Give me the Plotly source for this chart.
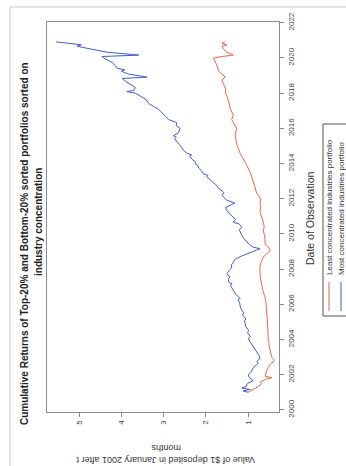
import plotly.graph_objects as go

# Cumulative value of $1 invested in January 2001 (read at irregular month-ends)
most_dates = [
    "2001-01", "2001-02", "2001-03", "2001-04", "2001-05", "2001-07", "2001-09", "2001-11",
    "2002-01", "2002-03", "2002-05", "2002-07", "2002-09", "2002-10", "2002-12",
    "2003-02", "2003-04", "2003-06", "2003-08", "2003-10", "2003-12",
    "2004-02", "2004-03", "2004-04", "2004-06", "2004-07", "2004-08", "2004-10", "2004-12",
    "2005-02", "2005-03", "2005-04", "2005-06", "2005-07", "2005-08", "2005-10", "2005-12",
    "2006-02", "2006-04", "2006-05", "2006-06", "2006-08", "2006-10", "2006-12",
    "2007-02", "2007-03", "2007-04", "2007-06", "2007-08", "2007-09", "2007-10", "2007-12",
    "2008-01", "2008-02", "2008-04", "2008-05", "2008-06", "2008-08", "2008-10", "2008-12",
    "2009-02", "2009-03", "2009-04", "2009-06", "2009-08", "2009-10", "2009-12",
    "2010-02", "2010-04", "2010-05", "2010-06", "2010-08", "2010-09", "2010-11",
    "2011-01", "2011-03", "2011-05", "2011-07", "2011-09", "2011-10", "2011-12",
    "2012-02", "2012-04", "2012-05", "2012-06", "2012-08", "2012-10", "2012-12",
    "2013-02", "2013-04", "2013-05", "2013-06", "2013-08", "2013-10", "2013-12",
    "2014-01", "2014-02", "2014-04", "2014-06", "2014-07", "2014-08", "2014-10", "2014-12",
    "2015-02", "2015-04", "2015-06", "2015-07", "2015-08", "2015-10",
    "2016-01", "2016-02", "2016-03", "2016-05", "2016-07", "2016-09", "2016-12",
    "2017-02", "2017-04", "2017-06", "2017-09", "2017-11",
    "2018-01", "2018-02", "2018-03", "2018-05", "2018-07", "2018-09", "2018-11", "2018-12",
    "2019-02", "2019-04", "2019-05", "2019-06", "2019-08", "2019-10",
    "2020-01", "2020-02", "2020-03", "2020-05", "2020-07", "2020-09", "2020-10", "2020-11", "2020-12",
]
most_values = [
    1.00, 1.12, 0.95, 1.15, 1.05, 1.02, 0.88, 0.97,
    1.00, 0.92, 0.90, 0.83, 0.76, 0.80, 0.72,
    0.74, 0.78, 0.84, 0.88, 0.92, 0.97,
    0.99, 0.95, 0.98, 1.02, 0.98, 1.00, 1.06, 1.07,
    1.09, 1.05, 1.08, 1.14, 1.10, 1.13, 1.17, 1.19,
    1.20, 1.24, 1.19, 1.22, 1.30, 1.34, 1.38,
    1.42, 1.38, 1.45, 1.47, 1.43, 1.48, 1.50, 1.45,
    1.41, 1.39, 1.40, 1.36, 1.35, 1.30, 1.15, 0.95,
    0.80, 0.72, 0.88, 0.98, 1.05, 1.10, 1.15,
    1.18, 1.21, 1.17, 1.15, 1.22, 1.35, 1.30,
    1.38, 1.45, 1.50, 1.54, 1.40, 1.31, 1.50,
    1.58, 1.62, 1.57, 1.60, 1.70, 1.74, 1.82,
    1.90, 1.98, 1.95, 2.06, 2.10, 2.17, 2.20,
    2.26, 2.24, 2.33, 2.38, 2.34, 2.45, 2.53, 2.57,
    2.63, 2.69, 2.74, 2.70, 2.77, 2.65,
    2.61, 2.66, 2.70, 2.69, 2.88, 2.95, 3.04,
    3.12, 3.24, 3.35, 3.43, 3.55,
    3.67, 3.87, 3.70, 3.67, 3.79, 3.90, 3.98, 3.39,
    3.83, 4.00, 3.92, 4.10, 4.15, 4.22,
    4.42, 4.46, 3.59, 4.34, 4.70, 5.05, 4.95, 5.33, 5.55,
]

least_dates = [
    "2001-01", "2001-02", "2001-03", "2001-05", "2001-07", "2001-08", "2001-10", "2001-11", "2001-12",
    "2002-02", "2002-04", "2002-06", "2002-08", "2002-10", "2002-11",
    "2003-01", "2003-03", "2003-05", "2003-08", "2003-11",
    "2004-03", "2004-07", "2004-11", "2005-03", "2005-07", "2005-11",
    "2006-03", "2006-07", "2006-11", "2007-03", "2007-07", "2007-11",
    "2008-03", "2008-07", "2008-10", "2009-01", "2009-02", "2009-04", "2009-06", "2009-09", "2009-12",
    "2010-03", "2010-06", "2010-09", "2011-01", "2011-04", "2011-08", "2011-10",
    "2012-01", "2012-05", "2012-09", "2012-12", "2013-04", "2013-07", "2013-11",
    "2014-02", "2014-05", "2014-08", "2014-11", "2015-02", "2015-06", "2015-09",
    "2016-01", "2016-04", "2016-07", "2016-10", "2017-02", "2017-05", "2017-08", "2017-11",
    "2018-01", "2018-04", "2018-07", "2018-10", "2018-12",
    "2019-04", "2019-08", "2019-11", "2020-01", "2020-02", "2020-03",
    "2020-05", "2020-07", "2020-09", "2020-10", "2020-11", "2020-12",
]
least_values = [
    1.00, 0.93, 0.90, 0.76, 0.68, 0.72, 0.58, 0.44, 0.60,
    0.58, 0.56, 0.52, 0.48, 0.40, 0.38,
    0.44, 0.46, 0.48, 0.50, 0.51,
    0.53, 0.53, 0.54, 0.55, 0.56, 0.57,
    0.58, 0.61, 0.66, 0.68, 0.71, 0.72,
    0.72, 0.68, 0.62, 0.50, 0.48, 0.52, 0.60, 0.60, 0.61,
    0.64, 0.62, 0.64, 0.68, 0.72, 0.70, 0.72,
    0.70, 0.80, 0.84, 0.87, 0.92, 0.95, 1.02,
    1.07, 1.13, 1.19, 1.23, 1.27, 1.29, 1.31,
    1.27, 1.33, 1.39, 1.35, 1.42, 1.44, 1.47, 1.50,
    1.54, 1.53, 1.58, 1.62, 1.54,
    1.70, 1.74, 1.80, 1.82, 1.62, 1.35,
    1.50, 1.58, 1.62, 1.50, 1.62, 1.55,
]

value_ticks = [1, 2, 3, 4, 5]
year_ticks = list(range(2000, 2023, 2))

title_lines = [
    "Cumulative Returns of Top-20% and Bottom-20% sorted portfolios sorted on",
    "industry concentration",
]
value_title = ["Value of $1 deposited in January 2001 after t", "months"]
date_title = "Date of Observation"
series_names = ["Least concentrated industries portfolio", "Most concentrated industries portfolio"]
series_colors = ["#E4664C", "#3D5FCB"]

W, H = 346, 466
L, R, T, B = 47, 279, 22, 412  # plot box in pixels
FONT = "Liberation Sans, Arial, sans-serif"
GRAY = "#8c8c8c"


def px(x):
    return (x - L) / (R - L)


def py(y):
    return (B - y) / (B - T)


fig = go.Figure()
fig.add_trace(go.Scatter(x=least_values, y=least_dates, mode="lines",
                         line=dict(color=series_colors[0], width=1), name=series_names[0]))
fig.add_trace(go.Scatter(x=most_values, y=most_dates, mode="lines",
                         line=dict(color=series_colors[1], width=1), name=series_names[1]))

fig.update_layout(
    width=W, height=H,
    margin=dict(l=L, r=W - R, t=T, b=H - B),
    paper_bgcolor="white", plot_bgcolor="white",
    showlegend=False,
    font=dict(family=FONT, size=8, color="#444"),
    xaxis=dict(
        range=[5.76, 0.27], tickvals=value_ticks, ticktext=[str(v) for v in value_ticks],
        tickangle=-90, ticks="outside", ticklen=4, tickcolor=GRAY, showgrid=False,
        zeroline=False, showline=True, linecolor=GRAY, linewidth=1, mirror=True,
        tickfont=dict(size=8, color="#444"),
    ),
    yaxis=dict(
        type="date", side="right", range=["1999-11-20", "2022-01-17"],
        tickvals=[f"{y}-01-01" for y in year_ticks], ticktext=[str(y) for y in year_ticks],
        tickangle=-90, ticks="outside", ticklen=4, tickcolor=GRAY, showgrid=False,
        zeroline=False, showline=True, linecolor=GRAY, linewidth=1, mirror=True,
        tickfont=dict(size=8, color="#444"),
    ),
)

shapes = [
    # outer frame
    dict(type="rect", xref="paper", yref="paper", x0=px(10), x1=px(360), y0=py(480), y1=py(7),
         line=dict(color="#c8c8c8", width=1), fillcolor="rgba(0,0,0,0)", layer="below"),
    # legend box
    dict(type="rect", xref="paper", yref="paper", x0=px(323), x1=px(370), y0=py(316), y1=py(124),
         line=dict(color="#555", width=1), fillcolor="rgba(0,0,0,0)"),
    dict(type="line", xref="paper", yref="paper", x0=px(329), x1=px(329), y0=py(311), y1=py(282),
         line=dict(color=series_colors[0], width=1)),
    dict(type="line", xref="paper", yref="paper", x0=px(341), x1=px(341), y0=py(311), y1=py(282),
         line=dict(color=series_colors[1], width=1)),
]

annotations = [
    dict(text=f"<b>{title_lines[0]}</b>", x=px(24), y=py(244), textangle=-90,
         font=dict(size=10, color="#222"), xanchor="center", yanchor="middle"),
    dict(text=f"<b>{title_lines[1]}</b>", x=px(39), y=py(222), textangle=-90,
         font=dict(size=10, color="#222"), xanchor="center", yanchor="middle"),
    dict(text=value_title[0], x=px(166), y=py(460), textangle=180,
         font=dict(size=9, color="#333"), xanchor="center", yanchor="middle"),
    dict(text=value_title[1], x=px(166), y=py(448), textangle=180,
         font=dict(size=9, color="#333"), xanchor="center", yanchor="middle"),
    dict(text=date_title, x=px(310), y=py(218), textangle=-90,
         font=dict(size=10.5, color="#333"), xanchor="center", yanchor="middle"),
    dict(text=series_names[0], x=px(329), y=py(277), textangle=-90,
         font=dict(size=8, color="#333"), xanchor="center", yanchor="bottom"),
    dict(text=series_names[1], x=px(341), y=py(277), textangle=-90,
         font=dict(size=8, color="#333"), xanchor="center", yanchor="bottom"),
]
for a in annotations:
    a.update(xref="paper", yref="paper", showarrow=False)

fig.update_layout(shapes=shapes, annotations=annotations)
fig.write_html("out.html")
